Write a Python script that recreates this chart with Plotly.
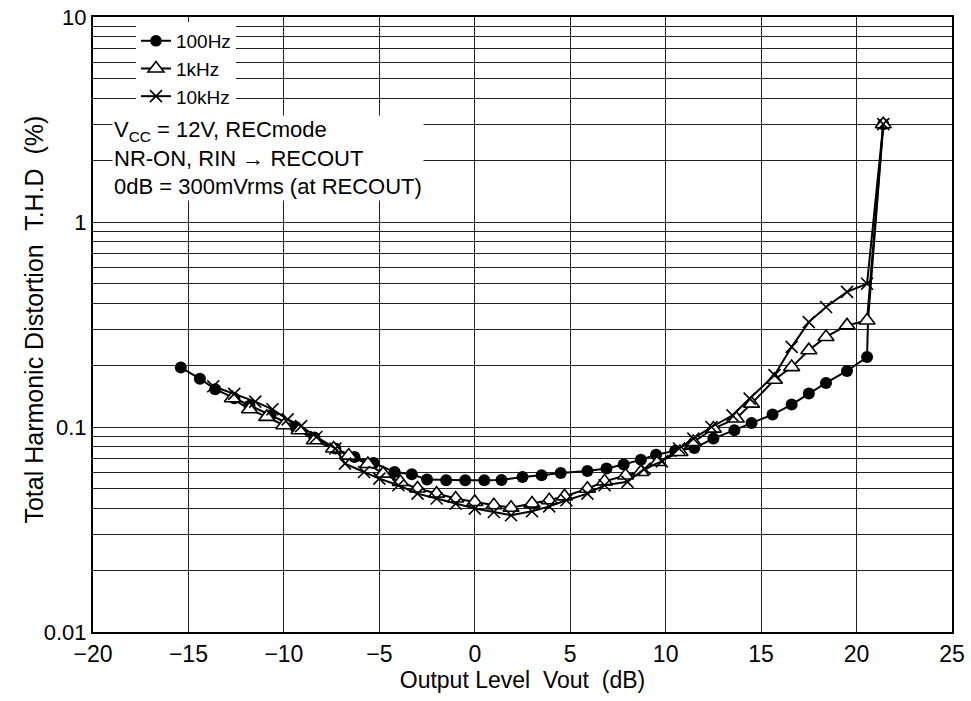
import plotly.graph_objects as go

# ---- data ----
x_100 = [-15.4, -14.4, -13.6, -12.6, -11.8, -10.7, -9.4, -8.4, -7.3, -6.3, -5.3, -4.2, -3.3,
         -2.5, -1.5, -0.5, 0.5, 1.4, 2.5, 3.5, 4.5, 5.9, 6.9, 7.8, 8.7, 9.5, 10.5, 11.5,
         12.5, 13.6, 14.5, 15.6, 16.6, 17.5, 18.4, 19.5, 20.55, 20.6, 21.4]
y_100 = [0.195, 0.172, 0.153, 0.138, 0.127, 0.114, 0.100, 0.089, 0.0785, 0.0714, 0.0668, 0.0603, 0.0588,
         0.0554, 0.0550, 0.0550, 0.0550, 0.0552, 0.0571, 0.0581, 0.0597, 0.0610, 0.0627, 0.0656, 0.0693, 0.0733, 0.0765, 0.0790,
         0.0878, 0.0964, 0.1047, 0.115, 0.1286, 0.1456, 0.164, 0.1876, 0.2195, 0.33, 3.0]

x_1k = [-12.7, -11.8, -10.9, -10.0, -9.2, -8.4, -7.4, -6.6, -5.6, -4.8, -3.9, -3.0, -2.0, -1.0,
        0.0, 1.0, 1.9, 3.0, 3.9, 4.7, 5.9, 6.8, 7.9, 8.7, 9.6, 10.75, 11.45, 12.5, 13.7,
        14.5, 15.7, 16.6, 17.5, 18.4, 19.5, 20.55, 21.4]
y_1k = [0.138, 0.122, 0.112, 0.102, 0.0964, 0.0861, 0.0785, 0.0725, 0.0660, 0.0592, 0.0539, 0.0501, 0.0473, 0.0448,
        0.0431, 0.0415, 0.0404, 0.0423, 0.0439, 0.0459, 0.0500, 0.0543, 0.0580, 0.0603, 0.0675, 0.0755, 0.0845, 0.0982, 0.110,
        0.130, 0.170, 0.196, 0.237, 0.275, 0.313, 0.331, 3.0]

x_10k = [-13.7, -12.6, -11.5, -10.6, -9.8, -9.1, -8.3, -7.3, -6.8, -5.8, -5.0, -4.0, -3.0, -2.0, -1.0,
         0.0, 1.0, 1.9, 3.0, 3.9, 4.8, 5.9, 6.8, 8.0, 8.9, 9.8, 10.7, 11.45, 12.4, 13.5, 14.4,
         15.7, 16.6, 17.5, 18.4, 19.5, 20.55, 21.4]
y_10k = [0.158, 0.145, 0.133, 0.122, 0.109, 0.101, 0.0894, 0.0785, 0.0663, 0.0603, 0.056, 0.052, 0.0473, 0.0448, 0.0423,
         0.0400, 0.0385, 0.0371, 0.0388, 0.0410, 0.0439, 0.0473, 0.0520, 0.0540, 0.0627, 0.0680, 0.0785, 0.0878, 0.100, 0.114, 0.1376,
         0.179, 0.246, 0.325, 0.385, 0.456, 0.50, 3.0]

x_ticks = [-20, -15, -10, -5, 0, 5, 10, 15, 20, 25]
x_ticktext = ["\u221220", "\u221215", "\u221210", "\u22125", "0", "5", "10", "15", "20", "25"]
y_ticks = [0.01, 0.1, 1, 10]
y_ticktext = ["0.01", "0.1", "1", "10"]
y_minor = [m * d for d in (0.01, 0.1, 1) for m in range(2, 10)]

note_text = ("V<sub>CC</sub> = 12V, RECmode<br>"
             "NR-ON, RIN \u2192 RECOUT<br>"
             "0dB = 300mVrms (at RECOUT)")
x_title = "Output Level\u00a0 Vout\u00a0 (dB)"
y_title = "Total Harmonic Distortion\u00a0 T.H.D\u00a0 (%)"

FONT = "Liberation Sans, Arial, sans-serif"

fig = go.Figure()

# 100 Hz: last-but-one point has no visible marker
sizes_100 = [12] * len(x_100)
sizes_100[-2] = 0
fig.add_trace(go.Scatter(
    x=x_100, y=y_100, name="100Hz", mode="lines+markers",
    line=dict(color="black", width=2),
    marker=dict(symbol="circle", size=sizes_100, color="black", opacity=1,
                line=dict(width=0)),
))
fig.add_trace(go.Scatter(
    x=x_1k, y=y_1k, name="1kHz", mode="lines+markers",
    line=dict(color="black", width=2),
    marker=dict(symbol="triangle-up", size=14, color="white", opacity=1,
                line=dict(width=1.6, color="black")),
))
fig.add_trace(go.Scatter(
    x=x_10k, y=y_10k, name="10kHz", mode="lines+markers",
    line=dict(color="black", width=2),
    marker=dict(symbol="x-thin", size=12, color="black", opacity=1,
                line=dict(width=1.6, color="black")),
))

# condition note block
fig.add_annotation(
    xref="paper", yref="paper", x=0.0225, y=0.771, xanchor="left", yanchor="middle",
    align="left", showarrow=False, bgcolor="white", borderpad=1,
    text=note_text, font=dict(family=FONT, size=22, color="black"),
)

# y-axis title as rotated annotation (precise placement)
fig.add_annotation(
    xref="paper", yref="paper", x=-0.0687, y=0.508, xanchor="center", yanchor="middle",
    textangle=-90, showarrow=False,
    text=y_title, font=dict(family=FONT, size=25, color="black"),
)

fig.update_layout(
    width=971, height=701,
    margin=dict(l=93, r=19, t=17, b=69),
    paper_bgcolor="white", plot_bgcolor="white",
    font=dict(family=FONT, size=20, color="black"),
    showlegend=True,
    legend=dict(x=0.05, y=0.992, xanchor="left", yanchor="top",
                bgcolor="white", borderwidth=0,
                font=dict(family=FONT, size=19, color="black"),
                tracegroupgap=0, itemwidth=30),
    xaxis=dict(
        range=[-20, 25], tickvals=x_ticks, ticktext=x_ticktext,
        showgrid=True, gridcolor="#222", gridwidth=1,
        showline=True, linecolor="black", linewidth=2, mirror=True,
        zeroline=False, ticks="", tickfont=dict(size=23), automargin=False,
        ticklabeloverflow="allow",
        title=dict(text=x_title, font=dict(size=23), standoff=4),
    ),
    yaxis=dict(
        type="log", range=[-2, 1], tickvals=y_ticks, ticktext=y_ticktext,
        showgrid=True, gridcolor="#222", gridwidth=1,
        minor=dict(tickvals=y_minor, showgrid=True, gridcolor="#222", gridwidth=1, ticks=""),
        showline=True, linecolor="black", linewidth=2, mirror=True,
        zeroline=False, ticks="", tickfont=dict(size=22), automargin=False,
        ticklabeloverflow="allow",
    ),
)

fig.write_html("out.html", config={"displayModeBar": False},
               post_script="document.body.style.margin='0';")
